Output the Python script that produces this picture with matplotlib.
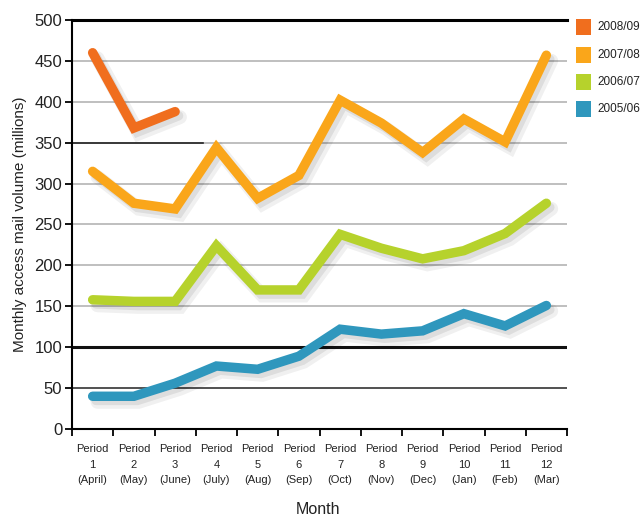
import matplotlib
matplotlib.use("Agg")
import matplotlib.pyplot as plt
import matplotlib.patheffects as pe
from matplotlib.patches import Rectangle

categories = ["Period\n1\n(April)", "Period\n2\n(May)", "Period\n3\n(June)", "Period\n4\n(July)",
              "Period\n5\n(Aug)", "Period\n6\n(Sep)", "Period\n7\n(Oct)", "Period\n8\n(Nov)",
              "Period\n9\n(Dec)", "Period\n10\n(Jan)", "Period\n11\n(Feb)", "Period\n12\n(Mar)"]
s0809 = [460, 368, 388]
s0708 = [315, 276, 269, 344, 282, 310, 402, 374, 338, 379, 351, 457]
s0607 = [158, 156, 156, 224, 170, 170, 238, 221, 208, 218, 239, 276]
s0506 = [40, 40, 56, 77, 73, 89, 122, 116, 120, 141, 126, 151]
series_names = ["2008/09", "2007/08", "2006/07", "2005/06"]
colors = ["#f06e1e", "#faa61a", "#b6d22c", "#2f97bd"]
yticks = [0, 50, 100, 150, 200, 250, 300, 350, 400, 450, 500]

plt.rcParams['font.family'] = ['Liberation Sans', 'DejaVu Sans']
fig = plt.figure(figsize=(6.44, 5.17), dpi=100)
ax = fig.add_axes([72/644, 1-429/517, 495/644, 409/517])

ax.set_xlim(0, 12)
ax.set_ylim(0, 500)

# gridlines
for v in yticks[1:-1]:
    if v in (50, 100):
        continue
    ax.axhline(v, color="#b4b4b4", lw=1.2, zorder=1)
ax.axhline(100, color="#111111", lw=2.2, zorder=1)
ax.axhline(50, color="#222222", lw=1.1, zorder=1)
ax.axhline(350, xmin=0, xmax=(203-72)/495, color="#222222", lw=1.2, zorder=1)

xs = [i + 0.5 for i in range(12)]
data = [s0809, s0708, s0607, s0506]
for name, vals, c in zip(series_names, data, colors):
    ax.plot(xs[:len(vals)], vals, color=c, lw=6.8, solid_capstyle='round', solid_joinstyle='miter',
            zorder=3,
            path_effects=[pe.SimpleLineShadow(offset=(3.5, -4), shadow_color='k', alpha=0.06, linewidth=10),
                          pe.SimpleLineShadow(offset=(2.5, -3), shadow_color='k', alpha=0.08),
                          pe.Normal()])

ax.spines["right"].set_visible(False)
ax.spines["top"].set_linewidth(2.2)
ax.spines["left"].set_linewidth(1.5)
ax.spines["bottom"].set_linewidth(1.5)

ax.set_yticks(yticks)
ax.set_yticklabels([str(v) for v in yticks], fontsize=12, color="#222222")
ax.tick_params(axis='y', length=5, width=1.3, pad=2)
ax.set_xticks(range(13))
ax.set_xticklabels([])
ax.tick_params(axis='x', length=5, width=1.3)
ax.set_xticks(xs, minor=True)
ax.set_xticklabels(categories, minor=True, fontsize=8, linespacing=1.7, color="#222222")
ax.tick_params(axis='x', which='minor', length=0, pad=11)

ax.set_ylabel("Monthly access mail volume (millions)", fontsize=11, color="#222222", labelpad=5)
fig.text(318/644, 1-510/517, "Month", fontsize=11.5, ha='center', va='center', color="#222222")

# legend
for i, (name, c) in enumerate(zip(series_names, colors)):
    yc = [27, 55, 82, 109][i]
    fig.patches.append(Rectangle((576/644, 1-(yc+8)/517), 15/644, 16/517,
                                 transform=fig.transFigure, facecolor=c, edgecolor='none'))
    fig.text(597/644, 1-yc/517, name, fontsize=8.5, va='center', ha='left', color="#222222")

fig.savefig("out.png", dpi=100)
